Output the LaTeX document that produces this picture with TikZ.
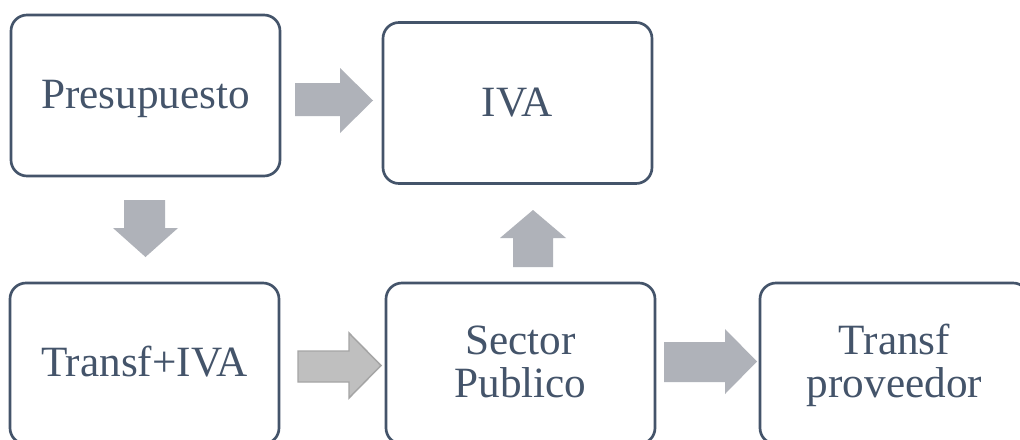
\documentclass[tikz,border=0pt]{standalone}
\usepackage{fontspec}
\setmainfont{Liberation Serif}
\definecolor{txtc}{HTML}{44546A}
\definecolor{arrc}{HTML}{AFB2B9}
\definecolor{arrl}{HTML}{BFBFBF}
\definecolor{arrd}{HTML}{A5A5A5}
\begin{document}
\begin{tikzpicture}[x=0.75pt,y=-0.75pt,
  box/.style={draw=txtc, line width=2pt, rounded corners=12pt, minimum width=201.75pt, minimum height=120.75pt, inner sep=0pt},
  lbl/.style={text=txtc, font=\fontsize{32.4}{32.25}\selectfont, align=center, inner sep=0pt, anchor=base},
  barrow/.style={fill=arrc, draw=none},
  barrowlt/.style={fill=arrl, draw=arrd, line width=1.1pt}]
\useasboundingbox (0,0) rectangle (1020,439);
\fill[white] (0,0) rectangle (1020,439);
% boxes
\node[box] (pre) at (145.5,95.5) {};
\node[box] (iva) at (517.5,103) {};
\node[box] (tiva) at (144.5,363.5) {};
\node[box] (sec) at (520.5,363.5) {};
\node[box] (prov) at (894.5,363.5) {};
% labels
\node[lbl, yshift=-9.75pt] (tpre) at (pre.center) {Presupuesto};
\node[lbl, yshift=-9.75pt] (tiv) at (iva.center) {IVA};
\node[lbl, yshift=-9.75pt] (ttiva) at (tiva.center) {Transf+IVA};
\node[lbl, yshift=-25.5pt] (tsec) at (sec.center) {Sector\\Publico};
\node[lbl, yshift=-25.5pt] (tprov) at (prov.center) {Transf\\proveedor};
% block arrows
\path[barrow] (295,83) -- (340,83) -- (340,68) -- (373,100.5) -- (340,133) -- (340,116) -- (295,116) -- cycle;
\path[barrow] (124,200) -- (165,200) -- (165,228) -- (178,228) -- (145.5,257) -- (113,228) -- (124,228) -- cycle;
\path[barrow] (513,267) -- (553,267) -- (553,238) -- (566,238) -- (533,210) -- (500,238) -- (513,238) -- cycle;
\path[barrowlt] (298,351) -- (349,351) -- (349,333) -- (381,365.5) -- (349,398) -- (349,382) -- (298,382) -- cycle;
\path[barrow] (664,342) -- (725,342) -- (725,329) -- (757,361.5) -- (725,394) -- (725,382) -- (664,382) -- cycle;
\end{tikzpicture}
\end{document}
